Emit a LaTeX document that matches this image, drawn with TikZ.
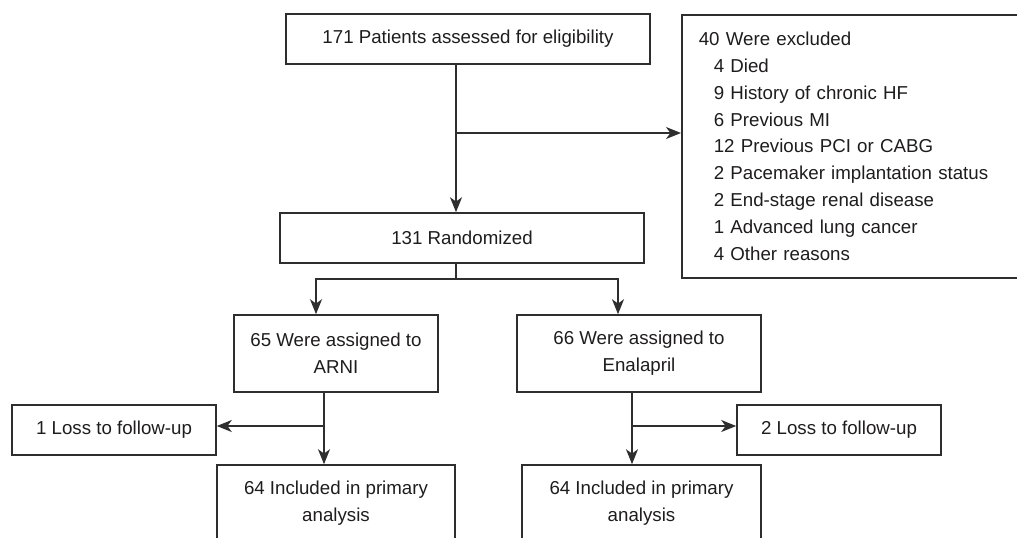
\documentclass[tikz,border=0pt]{standalone}
\usepackage{fontspec}
\setmainfont{Liberation Sans}
\usetikzlibrary{arrows.meta}
\definecolor{ln}{HTML}{2E2E2E}
\definecolor{tx}{HTML}{1E1C1D}
\begin{document}
\begin{tikzpicture}[x=0.5pt,y=-0.5pt,
 box/.style={draw=ln, line width=0.8pt, text=tx, align=center, inner sep=0pt, font=\fontsize{9.35}{13.5}\selectfont},
 conn/.style={draw=ln, line width=0.8pt},
 arr/.style={conn, -{Stealth[length=7.5pt,width=6pt,inset=2.2pt]}}]
\useasboundingbox (0,0) rectangle (1017,537);
\clip (0,0) rectangle (1017,537);
\node[box, minimum width=182pt, minimum height=25pt] (top) at (468,39) {171 Patients assessed for eligibility};
\node[box, anchor=north west, minimum width=200pt, minimum height=131.5pt, text width=183pt, align=left, inner xsep=8.5pt, font=\fontsize{9.35}{13.4}\selectfont] (excl) at (681,14) {40 Were excluded\\
\hspace*{7.5pt}4 Died\\
\hspace*{7.5pt}9 History of chronic HF\\
\hspace*{7.5pt}6 Previous MI\\
\hspace*{7.5pt}12 Previous PCI or CABG\\
\hspace*{7.5pt}2 Pacemaker implantation status\\
\hspace*{7.5pt}2 End-stage renal disease\\
\hspace*{7.5pt}1 Advanced lung cancer\\
\hspace*{7.5pt}4 Other reasons};
\node[box, minimum width=182pt, minimum height=25pt] (rand) at (462,238) {131 Randomized};
\node[box, minimum width=102pt, minimum height=38.5pt] (arni) at (336,353.5) {65 Were assigned to\\ARNI};
\node[box, minimum width=122pt, minimum height=38.5pt] (enal) at (639,353.5) {66 Were assigned to\\Enalapril};
\node[box, minimum width=102pt, minimum height=25pt] (lossA) at (114,430) {1 Loss to follow-up};
\node[box, minimum width=102pt, minimum height=25pt] (lossE) at (839,430) {2 Loss to follow-up};
\node[box, minimum width=119pt, minimum height=38.5pt] (incA) at (336,503.5) {64 Included in primary\\analysis};
\node[box, minimum width=119.5pt, minimum height=38.5pt] (incE) at (641.5,503.5) {64 Included in primary\\analysis};
\coordinate (s1) at (456,133);
\draw[arr] (top.south -| s1) -- (rand.north -| s1);
\draw[arr] (s1) -- (s1 -| excl.west);
\coordinate (s2) at (456,279);
\coordinate (dA) at (316,279);
\coordinate (dE) at (618,279);
\draw[conn] (rand.south -| s2) -- (s2);
\draw[arr] (s2) -| (arni.north -| dA);
\draw[arr] (s2) -| (enal.north -| dE);
\coordinate (bA) at (324,426);
\draw[arr] (arni.south -| bA) -- (incA.north -| bA);
\draw[arr] (bA) -- (bA -| lossA.east);
\coordinate (bE) at (632,426);
\draw[arr] (enal.south -| bE) -- (incE.north -| bE);
\draw[arr] (bE) -- (bE -| lossE.west);
\end{tikzpicture}
\end{document}
